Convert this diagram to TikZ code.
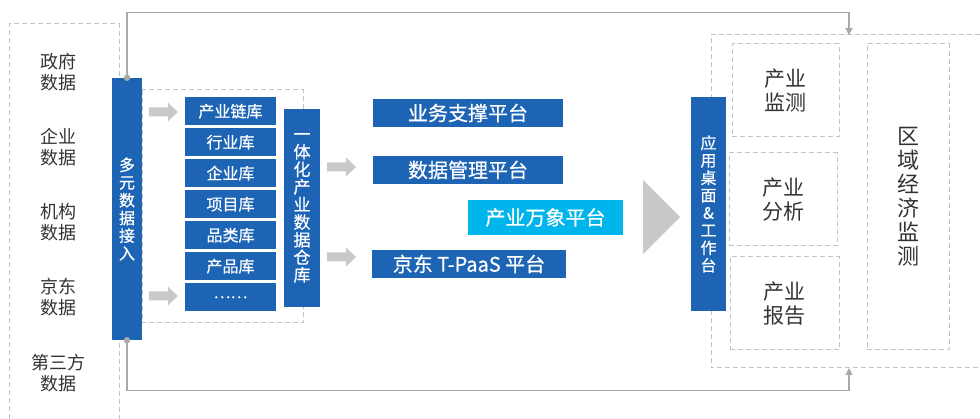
\documentclass[tikz,border=0pt]{standalone}
\usepackage{fontspec}
\setmainfont{Noto Sans CJK SC}
\newfontfamily\cjkmed[FakeBold=0.6]{Noto Sans CJK SC}
\usetikzlibrary{arrows.meta}
\definecolor{jdblue}{HTML}{1E64B4}
\definecolor{jdcyan}{HTML}{00B5EB}
\definecolor{arrowgray}{HTML}{C8C9C9}
\definecolor{dashgray}{HTML}{C2C2C2}
\definecolor{conngray}{HTML}{A9A9A9}
\definecolor{txtgray}{HTML}{333333}
\begin{document}
\begin{tikzpicture}[x=1pt,y=-1pt,
  bluebox/.style={fill=jdblue,text=white,inner sep=0pt,align=center},
  libbox/.style={bluebox,minimum width=91pt,minimum height=28.5pt,font=\cjkmed\fontsize{16}{18}\selectfont},
  platbox/.style={bluebox,minimum height=28pt,font=\cjkmed\fontsize{20}{22}\selectfont},
  vbar/.style={bluebox},
  srctext/.style={text=txtgray,align=center,inner sep=0pt,font=\fontsize{18}{21}\selectfont},
  dashbox/.style={draw=dashgray,line width=1pt,dash pattern=on 5pt off 3pt},
  dashnode/.style={dashbox,inner sep=0pt,text=txtgray,align=center},
  conn/.style={draw=conngray,line width=1.3pt},
  fatarr/.pic={\fill[arrowgray] (0,-4.5) -- (19,-4.5) -- (19,-9.5) -- (29,0) -- (19,9.5) -- (19,4.5) -- (0,4.5) -- cycle;}
]
\useasboundingbox (0,0) rectangle (980,419);

% dashed frames
\draw[dashbox] (9,419) -- (9,24) -- (119,24) -- (119,419);
\draw[dashbox] (142,90) rectangle (303,323);
\draw[dashbox] (980,35) -- (711,35) -- (711,368) -- (980,368);

% right dashed boxes
\node[dashnode,minimum width=107pt,minimum height=93pt,font=\fontsize{21}{24}\selectfont] (jc) at (785.5,90.5) {产业\\监测};
\node[dashnode,minimum width=108pt,minimum height=93pt,font=\fontsize{21}{24}\selectfont] (fx) at (783,199.5) {产业\\分析};
\node[dashnode,minimum width=109pt,minimum height=93pt,font=\fontsize{21}{24}\selectfont] (bg) at (784.5,303.5) {产业\\报告};
\node[dashnode,minimum width=82pt,minimum height=306pt,font=\fontsize{22}{24}\selectfont] (qy) at (908,197) {区\\域\\经\\济\\监\\测};

% source texts
\node[srctext] (s1) at (58,72) {政府\\数据};
\node[srctext] (s2) at (58,147) {企业\\数据};
\node[srctext] (s3) at (58,222) {机构\\数据};
\node[srctext] (s4) at (58,297) {京东\\数据};
\node[srctext] (s5) at (58,373) {第三方\\数据};

% bars
\node[vbar,minimum width=30pt,minimum height=262pt,font=\cjkmed\fontsize{16}{17.7}\selectfont] (acc) at (127,209) {多\\元\\数\\据\\接\\入};
\node[vbar,minimum width=36pt,minimum height=198pt,font=\cjkmed\fontsize{17}{17.6}\selectfont] (wh) at (302,208) {一\\体\\化\\产\\业\\数\\据\\仓\\库};
\node[vbar,minimum width=35pt,minimum height=214pt,font=\cjkmed\fontsize{16}{17.5}\selectfont] (app) at (708.5,204) {应\\用\\桌\\面\\\&\\工\\作\\台};

% connectors
\coordinate (topin) at (849,35);
\coordinate (botin) at (849,368);
\draw[conn,-{Triangle[width=7pt,length=7pt]}] (acc.north) -- ++(0,-65) -| (topin);
\draw[conn,-{Triangle[width=7pt,length=7pt]}] (acc.south) -- ++(0,50) -| (botin);
\fill[conngray] (acc.north) circle (3.2);
\fill[conngray] (acc.south) circle (3.2);

% libraries
\node[libbox] (l1) at (230.5,111.25) {产业链库};
\node[libbox] (l2) at (230.5,142.25) {行业库};
\node[libbox] (l3) at (230.5,173.25) {企业库};
\node[libbox] (l4) at (230.5,204.25) {项目库};
\node[libbox] (l5) at (230.5,235.25) {品类库};
\node[libbox] (l6) at (230.5,266.25) {产品库};
\node[libbox] (l7) at (230.5,297.25) {……};

% platforms
\node[platbox,minimum width=190pt] (p1) at (468,113) {业务支撑平台};
\node[platbox,minimum width=190pt] (p2) at (468,170) {数据管理平台};
\node[platbox,fill=jdcyan,minimum width=155pt,minimum height=35pt] (p3) at (545.5,217.5) {产业万象平台};
\node[platbox,minimum width=194pt] (p4) at (469,264) {京东 T-PaaS 平台};

% fat arrows
\pic at (149,112) {fatarr};
\pic at (149,296) {fatarr};
\pic at (327,167) {fatarr};
\pic at (327,257) {fatarr};

% big triangle
\fill[arrowgray] (643,180) -- (680,217) -- (643,254) -- cycle;
\end{tikzpicture}
\end{document}
